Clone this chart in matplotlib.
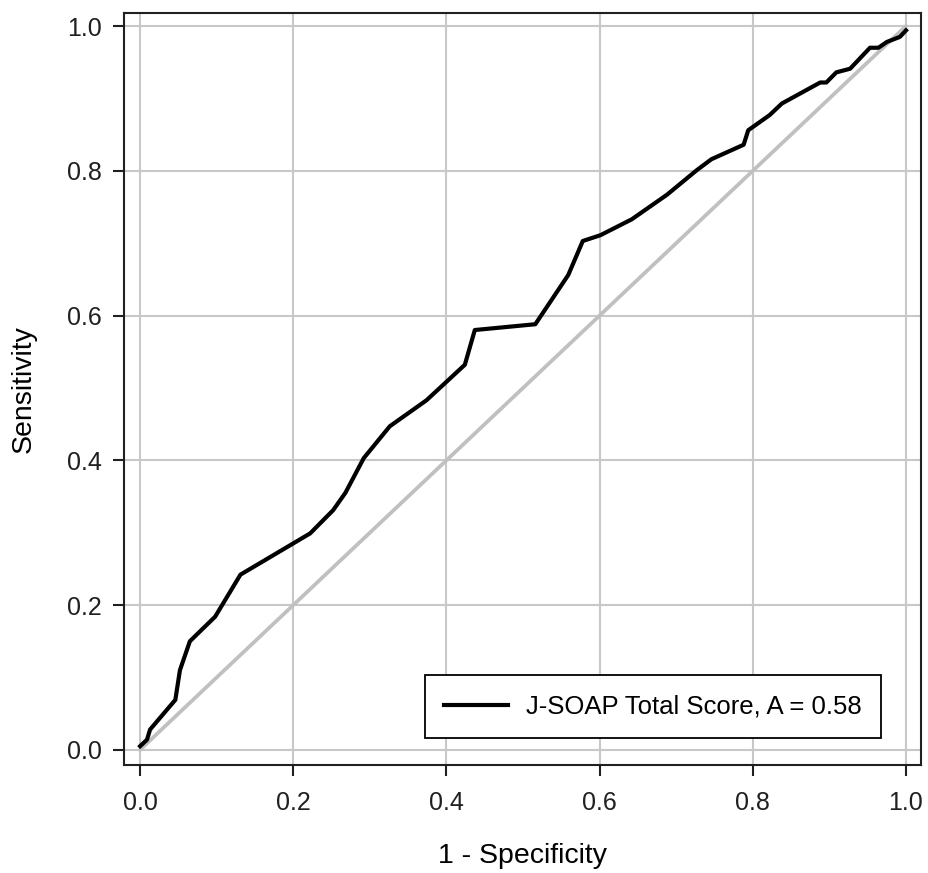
import numpy as np
import matplotlib
matplotlib.use("Agg")
import matplotlib.pyplot as plt

plt.rcParams['font.family'] = ['Liberation Sans', 'DejaVu Sans']

# ROC curve
fpr = [0.0, 0.009, 0.013, 0.046, 0.052, 0.065, 0.098, 0.131, 0.222, 0.252,
       0.268, 0.292, 0.326, 0.374, 0.424, 0.437, 0.516, 0.559, 0.578, 0.601,
       0.642, 0.688, 0.727, 0.746, 0.788, 0.794, 0.822, 0.838, 0.888, 0.896,
       0.909, 0.927, 0.953, 0.964, 0.975, 0.992, 1.0]
tpr = [0.005, 0.014, 0.028, 0.069, 0.110, 0.150, 0.184, 0.242, 0.299, 0.331,
       0.355, 0.403, 0.447, 0.483, 0.532, 0.580, 0.588, 0.656, 0.703, 0.711,
       0.733, 0.767, 0.801, 0.816, 0.836, 0.856, 0.877, 0.893, 0.922, 0.922,
       0.936, 0.941, 0.970, 0.970, 0.978, 0.985, 0.994]
ref_line = [0.0, 1.0]
ticks = [0.0, 0.2, 0.4, 0.6, 0.8, 1.0]
legend_label = 'J-SOAP Total Score, A = 0.58'

fig = plt.figure(figsize=(9.29, 8.73), dpi=100)
ax = fig.add_axes([0.1335, 0.1237, 0.8579, 0.8614])

ax.grid(True, color='#c8c8c8', linewidth=1.5, zorder=0)
ax.plot(ref_line, ref_line, color='#c0c0c0', linewidth=2.7, zorder=2)
ax.plot(fpr, tpr, color='black', linewidth=3, label=legend_label, zorder=3)

ax.set_xlim(-0.021, 1.0196)
ax.set_ylim(-0.021, 1.018)
ax.set_xticks(ticks)
ax.set_yticks(ticks)
ax.set_xticklabels([f'{t:.1f}' for t in ticks])
ax.set_yticklabels([f'{t:.1f}' for t in ticks])
ax.tick_params(direction='out', length=8, width=1.5, labelsize=18, colors='#202020')
ax.tick_params(axis='x', pad=11)
ax.tick_params(axis='y', pad=8)
for s in ax.spines.values():
    s.set_linewidth(1.5)
    s.set_color('#202020')

ax.set_xlabel('1 - Specificity', fontsize=20.5, labelpad=20)
ax.set_ylabel('Sensitivity', fontsize=20.5, labelpad=22)

leg = ax.legend(loc='lower right', fontsize=18.5, fancybox=False, framealpha=1,
                edgecolor='black', borderpad=0.75, handlelength=2.5,
                handletextpad=0.7, borderaxespad=0,
                bbox_to_anchor=(0.950, 0.036))
leg.get_frame().set_linewidth(1.3)

fig.savefig('out.png', dpi=100)
